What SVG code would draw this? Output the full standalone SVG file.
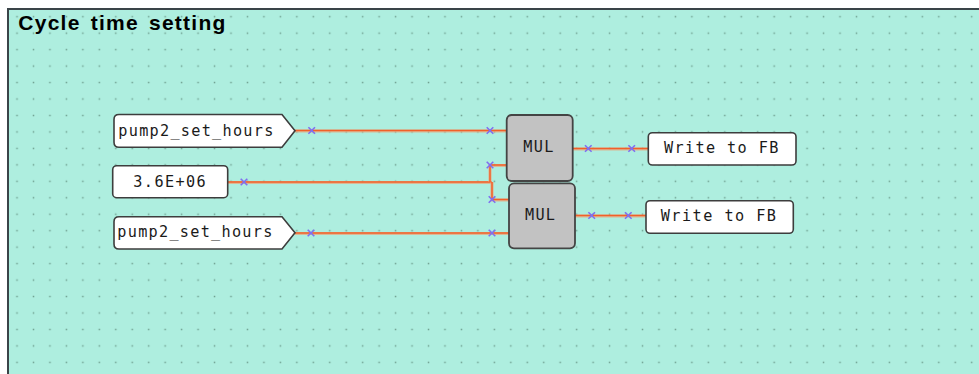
<svg xmlns="http://www.w3.org/2000/svg" width="979" height="374" viewBox="0 0 979 374">
<style>
.mono{font-family:"DejaVu Sans Mono","Liberation Mono",monospace;font-size:15.2px;fill:#1a1a1a}
.node{fill:#ffffff;stroke:#3d3d3d;stroke-width:1.6}
.fb{fill:#c2c2c2;stroke:#444444;stroke-width:1.8}
.wire-u{fill:none;stroke:#eba57c;stroke-width:3.2;stroke-opacity:0.75}
.wire{fill:none;stroke:#f1602a;stroke-width:1.5}
.mk{fill:none;stroke:#7f6ff0;stroke-width:1.6}
</style>
<defs>
<pattern id="grid" patternUnits="userSpaceOnUse" x="8.77" y="8.47" width="16.46" height="16.46">
<rect x="7.5" y="7.5" width="1.5" height="1.5" fill="#6f9f90"/>
</pattern>
<path id="x" class="mk" d="M-3.3,-3.3 L3.3,3.3 M-3.3,3.3 L3.3,-3.3"/>
</defs>
<rect x="0" y="0" width="979" height="374" fill="#ffffff"/>
<rect x="8" y="9" width="975" height="370" fill="#aeeedf" stroke="#3a4448" stroke-width="2"/>
<rect x="9" y="10" width="970" height="364" fill="url(#grid)"/>
<text x="18.3" y="30" font-family="'Liberation Sans',Arial,sans-serif" font-size="21" font-weight="bold" fill="#000" word-spacing="3" textLength="207" lengthAdjust="spacing">Cycle time setting</text>

<g id="connectors">
<path class="wire-u" d="M295,131 H506.7"/>
<path class="wire" d="M295,130.5 H506.7"/>
<path class="wire-u" d="M228,182.5 H491"/>
<path class="wire" d="M228,182 H492"/>
<path class="wire-u" d="M490,182 V165.5 H506.7"/>
<path class="wire" d="M490,182 V165 H506.7"/>
<path class="wire-u" d="M492,182 V200 H509"/>
<path class="wire" d="M492,182 V199.5 H509"/>
<path class="wire-u" d="M295,233.5 H509"/>
<path class="wire" d="M295,233 H509"/>
<path class="wire-u" d="M572.7,149 H648.3"/>
<path class="wire" d="M572.7,148.5 H648.3"/>
<path class="wire-u" d="M575,216 H646"/>
<path class="wire" d="M575,215.5 H646"/>
<use href="#x" x="311.7" y="130.5"/>
<use href="#x" x="490" y="130.5"/>
<use href="#x" x="244" y="182"/>
<use href="#x" x="490" y="165"/>
<use href="#x" x="492" y="199.5"/>
<use href="#x" x="311" y="233"/>
<use href="#x" x="492" y="233"/>
<use href="#x" x="588.3" y="148.5"/>
<use href="#x" x="631.7" y="148.5"/>
<use href="#x" x="591.7" y="215.5"/>
<use href="#x" x="628.3" y="215.5"/>
</g>

<g id="in1">
<path class="node" d="M119,114.5 H282 L295,130.8 L282,147.3 H119 Q114,147.3 114,142.3 V119.5 Q114,114.5 119,114.5 Z"/>
<text class="mono" x="118.3" y="135.7" textLength="155" lengthAdjust="spacing">pump2_set_hours</text>
</g>
<g id="const1">
<rect class="node" x="112.7" y="165.7" width="115" height="32" rx="4"/>
<text class="mono" x="133.3" y="186.7" textLength="72.4" lengthAdjust="spacing">3.6E+06</text>
</g>
<g id="in2">
<path class="node" d="M119,216.7 H282 L295,232.8 L282,249 H119 Q114,249 114,244 V221.7 Q114,216.7 119,216.7 Z"/>
<text class="mono" x="117.3" y="236.7" textLength="155" lengthAdjust="spacing">pump2_set_hours</text>
</g>
<g id="mul1">
<rect class="fb" x="506.7" y="115" width="66" height="66" rx="5"/>
<text class="mono" x="523.3" y="152.3" textLength="30" lengthAdjust="spacing">MUL</text>
</g>
<g id="mul2">
<rect class="fb" x="509" y="183.3" width="66" height="65" rx="5"/>
<text class="mono" x="525" y="220" textLength="30" lengthAdjust="spacing">MUL</text>
</g>
<g id="out1">
<rect class="node" x="648.3" y="132.7" width="147.7" height="32.3" rx="4"/>
<text class="mono" x="664" y="153.3" textLength="114.3" lengthAdjust="spacing">Write to FB</text>
</g>
<g id="out2">
<rect class="node" x="646" y="200.7" width="147.3" height="32.6" rx="4"/>
<text class="mono" x="660.7" y="221" textLength="115.3" lengthAdjust="spacing">Write to FB</text>
</g>
</svg>
